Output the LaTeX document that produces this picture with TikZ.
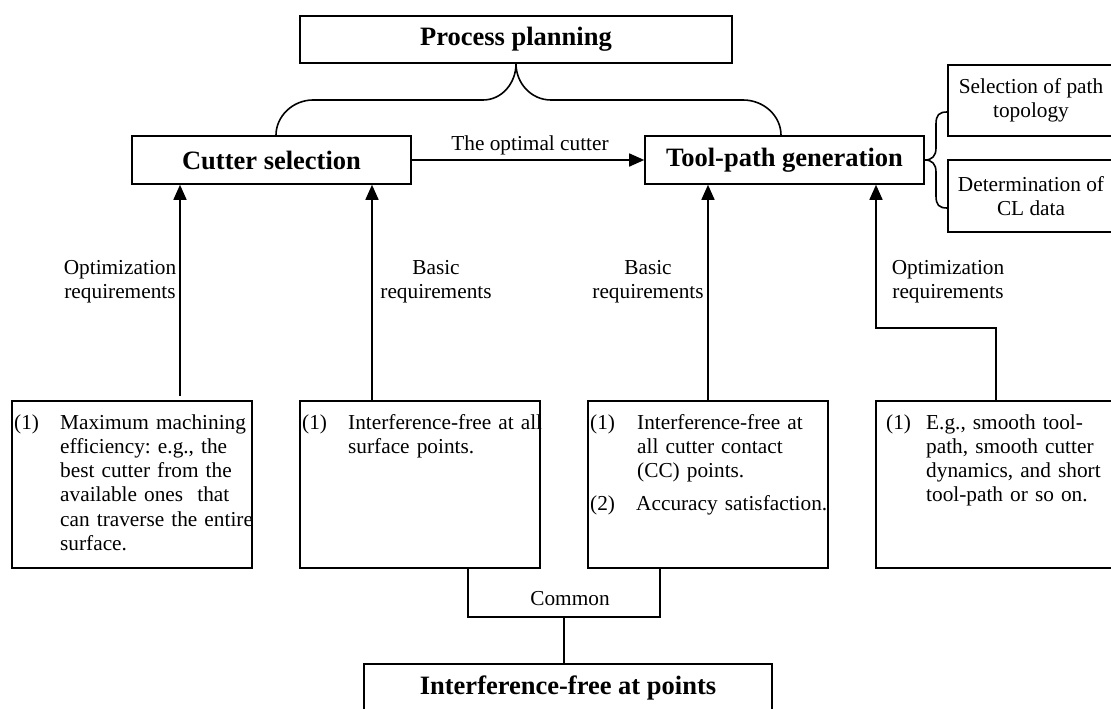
\documentclass[tikz,border=0pt]{standalone}
\usepackage{fontspec}
\setmainfont{Liberation Serif}
\usetikzlibrary{arrows.meta}
\frenchspacing
\newcommand\bodyfnt{\fontsize{21.3}{24.3}\selectfont}
\newcommand\titlefnt{\fontsize{26.5}{30}\selectfont\bfseries}
\begin{document}
\begin{tikzpicture}[x=1pt,y=-1pt,
  titlebox/.style={draw, line width=1.6pt, inner sep=0pt, font=\titlefnt},
  subbox/.style={draw, line width=1.6pt, inner sep=0pt, font=\bodyfnt, align=center},
  reqbox/.style={draw, line width=1.6pt, inner sep=0pt, minimum width=240pt, minimum height=167pt},
  num/.style={anchor=base west, inner sep=0pt, font=\bodyfnt},
  para/.style={anchor=base west, inner sep=0pt, font=\bodyfnt, align=left, text width=#1},
  lbl/.style={inner sep=0pt, font=\bodyfnt, align=center},
  conn/.style={line width=1.6pt},
  arr/.style={line width=1.6pt, -{Triangle[length=15pt,width=13pt]}},
]
\useasboundingbox (0,0) rectangle (1111,709);

% main boxes
\node[titlebox, minimum width=432pt, minimum height=47pt] (pp) at (516,39.5) {Process planning};
\node[titlebox, minimum width=279pt, minimum height=48pt] (cs) at (271.5,160) {Cutter selection};
\node[titlebox, minimum width=279pt, minimum height=48pt] (tp) at (784.5,160) {Tool-path generation};
\node[subbox, minimum width=166pt, minimum height=71pt] (sp) at (1031,100.5) {Selection of path\\topology};
\node[subbox, minimum width=166pt, minimum height=72pt] (dc) at (1031,196) {Determination of\\CL data};

% brace from process planning
\draw[conn] (pp.south) .. controls (516,83) and (502,100) .. (483,100) -- (313,100)
  .. controls (293,100) and (276,116) .. (276,0 |- cs.north);
\draw[conn] (pp.south) .. controls (516,83) and (531,100) .. (551,100) -- (743,100)
  .. controls (764,100) and (781,116) .. (781,0 |- tp.north);

% brace to sub boxes
\draw[conn] (sp.west |- 0,112) .. controls (939,112) and (936,115) .. (936,124) -- (936,148)
  .. controls (936,156) and (932,160) .. (tp.east)
  .. controls (932,160) and (936,164) .. (936,172) -- (936,196)
  .. controls (936,205) and (939,208) .. (dc.west |- 0,208);

% optimal cutter arrow
\draw[arr] (cs.east) -- (tp.west);
\node[lbl] (oc) at (530,145) {The optimal cutter};

% requirement boxes
\node[reqbox] (b1) at (132,484.5) {};
\node[reqbox] (b2) at (420,484.5) {};
\node[reqbox] (b3) at (708,484.5) {};
\node[reqbox] (b4) at (996,484.5) {};

% arrows up
\coordinate (a1) at (180,396);
\draw[arr] (a1) -- (a1 |- cs.south);
\draw[arr] (372,0 |- b2.north) -- (372,0 |- cs.south);
\draw[arr] (b3.north) -- (tp.south -| b3.north);
\draw[arr] (b4.north) -- (b4.north |- 0,328) -- (876,328) -- (876,0 |- tp.south);

% labels
\node[lbl] (l1) at (120,281.5) {Optimization\\requirements};
\node[lbl] (l2) at (436,281.5) {Basic\\requirements};
\node[lbl] (l3) at (648,281.5) {Basic\\requirements};
\node[lbl] (l4) at (948,281.5) {Optimization\\requirements};

% box texts
\node[num] (n1) at (14,429) {(1)};
\node[para=205pt] (t1) at (60,429) {Maximum machining\\efficiency: e.g., the\\best cutter from the\\available ones\ \ that\\can traverse the entire\\surface.};
\node[num] (n2) at (302,429) {(1)};
\node[para=205pt] (t2) at (348,429) {Interference-free at all\\surface points.};
\node[num] (n3) at (590,429) {(1)};
\node[para=205pt] (t3) at (637,429) {Interference-free at\\all cutter contact\\(CC) points.};
\node[num] (n3b) at (590,510) {(2)};
\node[para=205pt] (t3b) at (636,510) {Accuracy satisfaction.};
\node[num] (n4) at (886,429) {(1)};
\node[para=205pt] (t4) at (926,429) {E.g., smooth tool-\\path, smooth cutter\\dynamics, and short\\tool-path or so on.};

% common
\draw[conn] (468,0 |- b2.south) -- (468,617) -- (660,617) -- (660,0 |- b3.south);
\node[lbl] (cm) at (570,599) {Common};
\node[titlebox, minimum width=408pt, minimum height=47pt] (ifp) at (568,687.5) {Interference-free at points};
\draw[conn] (564,617) -- (564,0 |- ifp.north);
\end{tikzpicture}
\end{document}
